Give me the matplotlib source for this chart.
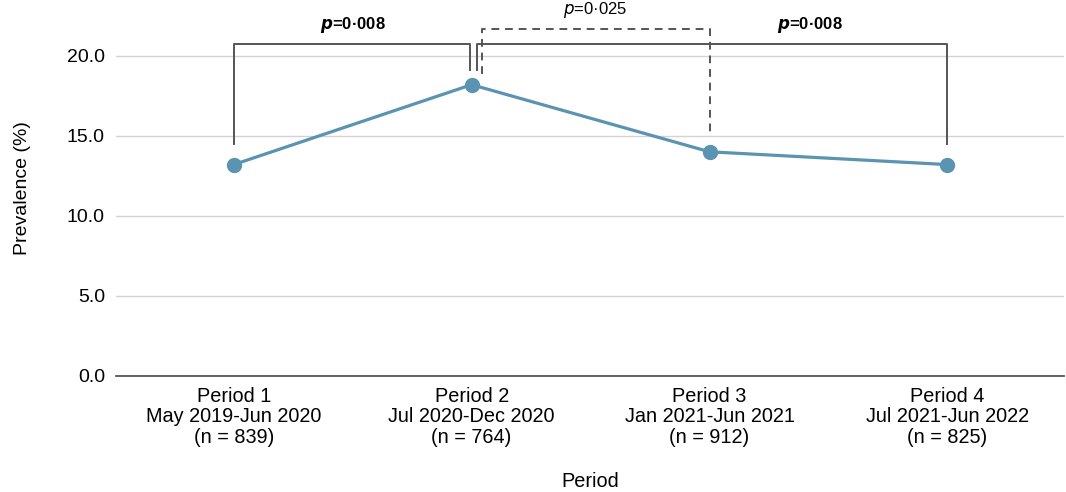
import matplotlib.pyplot as plt

plt.rcParams['font.family'] = ['Liberation Sans', 'DejaVu Sans']

# data
periods = ["Period 1\nMay 2019-Jun 2020\n(n = 839)",
           "Period 2\nJul 2020-Dec 2020\n(n = 764)",
           "Period 3\nJan 2021-Jun 2021\n(n = 912)",
           "Period 4\nJul 2021-Jun 2022\n(n = 825)"]
prevalence = [13.2, 18.2, 14.0, 13.2]
yticks = [0, 5, 10, 15, 20]

line_col = "#5b93b3"
brk_col = "#555555"

fig = plt.figure(figsize=(10.66, 4.92), dpi=100)
ax = fig.add_axes([116/1066, 1 - 375.5/492, 948/1066, 375.5/492])

x = list(range(len(periods)))
ax.plot(x, prevalence, color=line_col, lw=2.3, marker='o', ms=10, zorder=3)

ax.set_xlim(-0.495, 3.49)
ax.set_ylim(0, 23.5)
ax.set_yticks(yticks)
ax.set_yticklabels([f"{v:.1f}" for v in yticks], fontsize=14)
ax.set_xticks(x)
ax.set_xticklabels(periods, fontsize=14.3, linespacing=1.1)
ax.tick_params(axis='x', length=0, pad=8)
ax.tick_params(axis='y', length=0, pad=8)
ax.grid(axis='y', color="#d3d3d3", lw=1)
ax.set_axisbelow(True)
for s in ['top', 'right', 'left']:
    ax.spines[s].set_visible(False)
ax.spines['bottom'].set_color("#555555")
ax.spines['bottom'].set_linewidth(1.3)
ax.set_xlabel("Period", fontsize=14.3, labelpad=18)
ax.set_ylabel("Prevalence (%)", fontsize=14, labelpad=26)

# significance brackets
top = 20.75
ax.plot([0, 0, 0.993, 0.993], [14.5, top, top, 19.1], color=brk_col, lw=1.4, clip_on=False)
ax.plot([1.024, 1.024, 3, 3], [19.1, top, top, 14.5], color=brk_col, lw=1.4, clip_on=False)
ax.plot([1.045, 1.045, 2, 2], [18.9, 21.7, 21.7, 15.2], color=brk_col, lw=1.4,
        ls=(0, (4, 3)), clip_on=False)

ax.text(0.5, 21.3, r"$\boldsymbol{p}$=0·008", ha='center', va='bottom', fontsize=12,
        fontweight='bold')
ax.text(1.52, 22.25, r"$p$=0·025", ha='center', va='bottom', fontsize=12)
ax.text(2.42, 21.3, r"$\boldsymbol{p}$=0·008", ha='center', va='bottom', fontsize=12,
        fontweight='bold')

fig.savefig("out.png", dpi=100)
